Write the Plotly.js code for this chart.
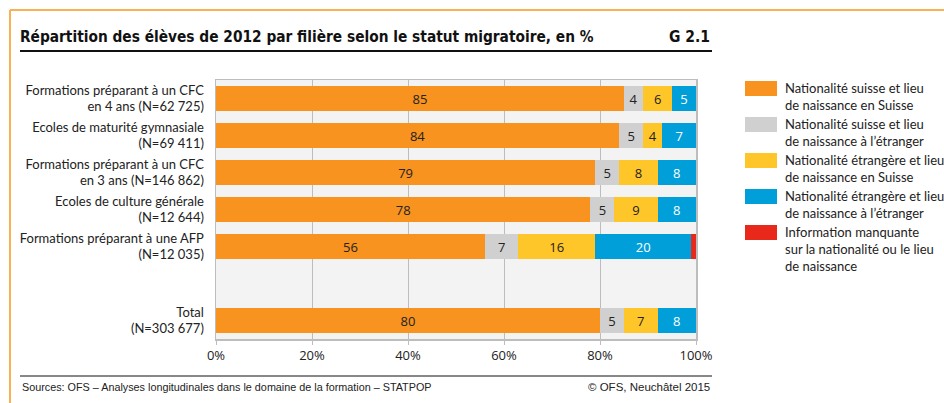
<!DOCTYPE html>
<html><head><meta charset="utf-8">
<script src="https://cdn.plot.ly/plotly-3.0.1.min.js"></script>
<style>html,body{margin:0;padding:0;background:#fff;}#chart{width:944px;height:403px;}</style>
</head><body><div id="chart"></div>
<script>
// ---- data ----
const categories = [
  "Formations préparant à un CFC<br>en 4 ans (N=62 725)",
  "Ecoles de maturité gymnasiale<br>(N=69 411)",
  "Formations préparant à un CFC<br>en 3 ans (N=146 862)",
  "Ecoles de culture générale<br>(N=12 644)",
  "Formations préparant à une AFP<br>(N=12 035)",
  " ",
  "Total<br>(N=303 677)"
];
const barCategories = [categories[0], categories[1], categories[2], categories[3], categories[4], categories[6]];
const seriesNames = [
  "Nationalité suisse et lieu<br>de naissance en Suisse",
  "Nationalité suisse et lieu<br>de naissance à l’étranger",
  "Nationalité étrangère et lieu<br>de naissance en Suisse",
  "Nationalité étrangère et lieu<br>de naissance à l’étranger",
  "Information manquante<br>sur la nationalité ou le lieu<br>de naissance"
];
const suisseSuisse     = [85, 84, 79, 78, 56, 80];
const suisseEtranger   = [4, 5, 5, 5, 7, 5];
const etrangerSuisse   = [6, 4, 8, 9, 16, 7];
const etrangerEtranger = [5, 7, 8, 8, 20, 8];
const manquante        = [0, 0, 0, 0, 1, 0];
const seriesValues = [suisseSuisse, suisseEtranger, etrangerSuisse, etrangerEtranger, manquante];
const tickVals = [0, 20, 40, 60, 80, 100];
const tickLabels = ["0%", "20%", "40%", "60%", "80%", "100%"];

// ---- styles ----
const colors = ["#F7931E", "#D0D0D0", "#FFC629", "#009FDA", "#E8281A"];
const textColors = ["#222", "#222", "#222", "#fff", "#fff"];
const showText = [true, true, true, true, false];

const L = 216, R = 696, T = 80, B = 339;
const px = x => (x - L) / (R - L);
const py = y => (B - y) / (B - T);

const traces = seriesValues.map((vals, i) => ({
  type: "bar",
  orientation: "h",
  name: seriesNames[i],
  y: barCategories,
  x: vals,
  marker: {color: colors[i], line: {width: 0}},
  text: vals.map(v => showText[i] ? String(v) : ""),
  textposition: showText[i] ? "inside" : "none",
  insidetextanchor: "middle",
  textangle: 0,
  textfont: {family: "Open Sans, sans-serif", size: 13, color: textColors[i]},
  hoverinfo: "skip",
  showlegend: false
}));

const shapes = [
  // orange frame
  {type: "line", xref: "paper", yref: "paper", x0: px(10), x1: px(944), y0: py(10), y1: py(10), line: {color: "#F8B254", width: 2}},
  {type: "line", xref: "paper", yref: "paper", x0: px(10), x1: px(10), y0: py(10), y1: py(403), line: {color: "#F8B254", width: 2}},
  // title underline
  {type: "line", xref: "paper", yref: "paper", x0: px(20), x1: px(712), y0: py(51), y1: py(51), line: {color: "#111", width: 2}},
  // footer line
  {type: "line", xref: "paper", yref: "paper", x0: px(20), x1: px(712), y0: py(376), y1: py(376), line: {color: "#111", width: 1}}
];
const annotations = [
  {xref: "paper", yref: "paper", x: px(712), y: py(37), xanchor: "right", yanchor: "middle", text: "<b>G 2.1</b>", showarrow: false,
   font: {family: "DejaVu Sans Condensed, sans-serif", size: 15.5, color: "#111"}},
  {xref: "paper", yref: "paper", x: px(20), y: py(387), xanchor: "left", yanchor: "middle", showarrow: false,
   text: "Sources: OFS – Analyses longitudinales dans le domaine de la formation – STATPOP",
   font: {family: "Liberation Sans, sans-serif", size: 10.8, color: "#222"}},
  {xref: "paper", yref: "paper", x: px(712), y: py(387), xanchor: "right", yanchor: "middle", showarrow: false,
   text: "© OFS, Neuchâtel 2015",
   font: {family: "Liberation Sans, sans-serif", size: 11.5, color: "#222"}}
];
// legend built from series names/colors
const legendTop = [81, 117, 153, 189, 225];
seriesNames.forEach((n, i) => {
  shapes.push({type: "rect", xref: "paper", yref: "paper", x0: px(745), x1: px(777), y0: py(legendTop[i]), y1: py(legendTop[i] + 15),
    fillcolor: colors[i], line: {width: 0}});
  annotations.push({xref: "paper", yref: "paper", x: px(783), y: py(legendTop[i] - 3), xanchor: "left", yanchor: "top", align: "left",
    showarrow: false, text: n, font: {family: "Lato, sans-serif", size: 13, color: "#222"}});
});

const layout = {
  width: 944, height: 403,
  margin: {l: L, r: 944 - R, t: T, b: 403 - B, pad: 0},
  paper_bgcolor: "#fff",
  plot_bgcolor: "#F3F3F3",
  barmode: "stack",
  bargap: 0.35,
  showlegend: false,
  title: {text: "<b>Répartition des élèves de 2012 par filière selon le statut migratoire, en %</b>",
    xref: "container", yref: "container", x: 20 / 944, y: 1 - 37 / 403, xanchor: "left", yanchor: "middle",
    font: {family: "DejaVu Sans Condensed, sans-serif", size: 15.3, color: "#111"}},
  xaxis: {range: [0, 100], tickvals: tickVals, ticktext: tickLabels, showgrid: true, gridcolor: "#BDBDBD", gridwidth: 1,
    zeroline: false, showline: true, linecolor: "#BDBDBD", linewidth: 1.5, mirror: true,
    ticks: "outside", ticklen: 4, tickcolor: "#BDBDBD",
    tickfont: {family: "Open Sans, sans-serif", size: 13, color: "#222"}, fixedrange: true},
  yaxis: {type: "category", categoryorder: "array", categoryarray: categories, range: [6.5, -0.5],
    showgrid: false, zeroline: false, showline: true, linecolor: "#BDBDBD", linewidth: 1.5, mirror: true,
    ticks: "", ticklabelstandoff: 8,
    tickfont: {family: "Lato, sans-serif", size: 13, color: "#222"}, fixedrange: true},
  shapes: shapes,
  annotations: annotations
};
Plotly.newPlot("chart", traces, layout, {displayModeBar: false, staticPlot: true});
</script></body></html>
